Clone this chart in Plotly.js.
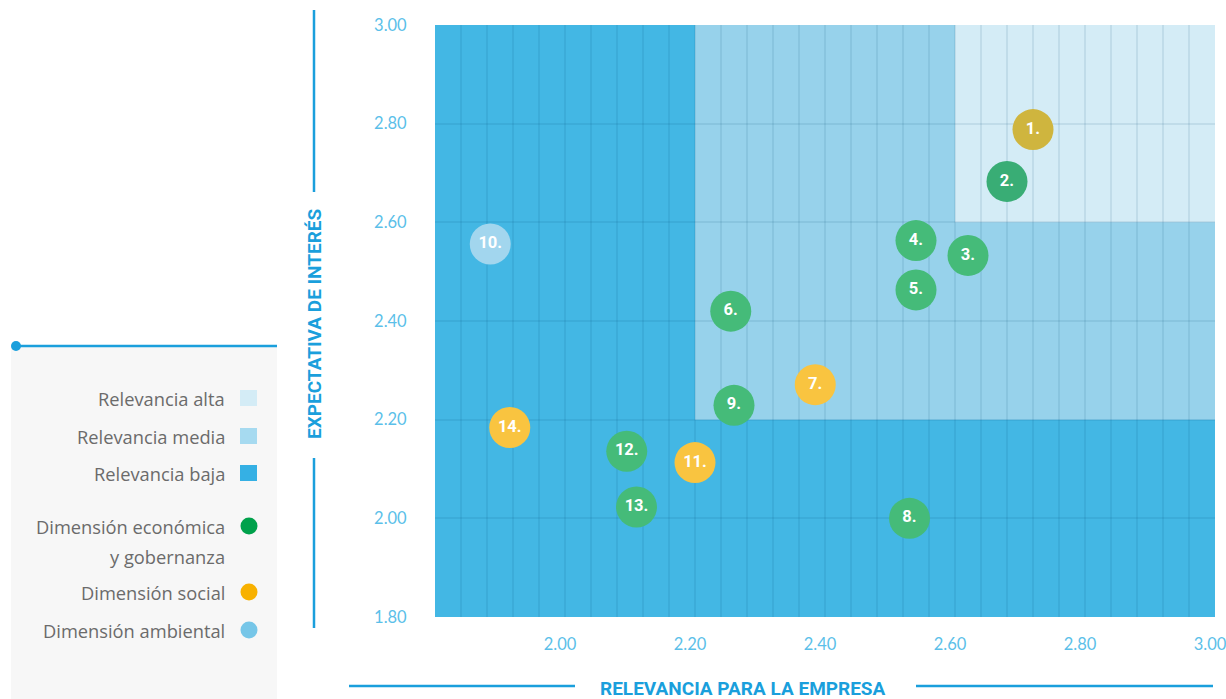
<!DOCTYPE html>
<html>
<head>
<meta charset="utf-8">
<script src="https://cdn.plot.ly/plotly-3.0.1.min.js"></script>
<style>html,body{margin:0;padding:0;background:#fff;}#chart{width:1226px;height:699px;}</style>
</head>
<body>
<div id="chart"></div>
<script>
// ---- Data ----
const pointLabels = ['1.','2.','3.','4.','5.','6.','7.','8.','9.','10.','11.','12.','13.','14.'];
const relevanciaEmpresa = [2.72, 2.68, 2.62, 2.54, 2.54, 2.255, 2.385, 2.53, 2.26, 1.885, 2.20, 2.095, 2.11, 1.915];
const expectativaInteres = [2.788, 2.683, 2.533, 2.563, 2.463, 2.42, 2.271, 2.00, 2.229, 2.556, 2.113, 2.136, 2.023, 2.184];
const dimension = ['social','economica','economica','economica','economica','economica','social','economica','economica','ambiental','social','economica','economica','social'];

const zoneNames = ['Relevancia alta', 'Relevancia media', 'Relevancia baja'];
const mediaThreshold = 2.20;
const altaThreshold = 2.60;
const dimensionNames = ['Dimensión económica', 'y gobernanza', 'Dimensión social', 'Dimensión ambiental'];

const xTicks = [2.00, 2.20, 2.40, 2.60, 2.80, 3.00];
const yTicks = [1.80, 2.00, 2.20, 2.40, 2.60, 2.80, 3.00];
const axisMin = 1.80, axisMax = 3.00;
const xGridStep = 0.04;

// ---- Styles ----
const zoneColors = {alta: '#d4ecf6', media: '#97d2eb', baja: '#43b7e4'};
const legendZoneColors = ['#d4ecf6', '#a6daf0', '#35b0e4'];
const markerColors = {economica: '#45bb79', social: '#f9c440', ambiental: '#a2d6ee'};
const legendDotColors = ['#00a14b', '#f8b100', '#76c6e8'];
const blue = '#1a9fdc';
const textGray = '#6b6b6b';

function hexToRgb(h){h=h.replace('#','');return [parseInt(h.substr(0,2),16),parseInt(h.substr(2,2),16),parseInt(h.substr(4,2),16)];}
function multiply(a,b){const A=hexToRgb(a),B=hexToRgb(b);return 'rgb('+A.map((v,i)=>Math.round(v*B[i]/255)).join(',')+')';}

const colors = relevanciaEmpresa.map((x,i)=>{
  const c = markerColors[dimension[i]];
  return (x >= altaThreshold && expectativaInteres[i] >= altaThreshold) ? multiply(c, zoneColors.alta) : c;
});

const trace = {
  type: 'scatter', mode: 'markers+text',
  x: relevanciaEmpresa, y: expectativaInteres, text: pointLabels,
  textposition: 'middle center',
  textfont: {family: 'Roboto, sans-serif', size: 16.5, color: '#ffffff', weight: 'bold'},
  marker: {size: 41, color: colors, line: {width: 0}},
  hoverinfo: 'x+y+text', showlegend: false, cliponaxis: false
};
// carrier trace so the labelled x axis is drawn
const labelAxisTrace = {type:'scatter', mode:'markers', x:[null], y:[null], xaxis:'x2', yaxis:'y', hoverinfo:'skip', showlegend:false};

// paper coordinate helpers (plot area: 435..1215 px, 25..617 px)
const L = 435, T = 25, W = 780, H = 592;
const px = v => (v - L) / W;
const py = v => (T + H - v) / H;

const shapes = [
  {type:'rect', xref:'x', yref:'y', x0:axisMin, x1:axisMax, y0:axisMin, y1:axisMax, fillcolor:zoneColors.baja, line:{width:0}, layer:'below'},
  {type:'rect', xref:'x', yref:'y', x0:mediaThreshold, x1:axisMax, y0:mediaThreshold, y1:axisMax, fillcolor:zoneColors.media, line:{width:0}, layer:'below'},
  {type:'rect', xref:'x', yref:'y', x0:altaThreshold, x1:axisMax, y0:altaThreshold, y1:axisMax, fillcolor:zoneColors.alta, line:{width:0}, layer:'below'},
  // axis title lines
  {type:'line', xref:'paper', yref:'paper', x0:px(314), x1:px(314), y0:py(10), y1:py(192), line:{color:blue, width:2.5}},
  {type:'line', xref:'paper', yref:'paper', x0:px(314), x1:px(314), y0:py(458), y1:py(628), line:{color:blue, width:2.5}},
  {type:'line', xref:'paper', yref:'paper', x0:px(349), x1:px(575), y0:py(686), y1:py(686), line:{color:blue, width:2.5}},
  {type:'line', xref:'paper', yref:'paper', x0:px(916), x1:px(1213), y0:py(686), y1:py(686), line:{color:blue, width:2.5}},
  // legend panel
  {type:'rect', xref:'paper', yref:'paper', x0:px(11), x1:px(277), y0:py(346), y1:py(699), fillcolor:'#f7f7f7', line:{width:0}, layer:'below'},
  {type:'line', xref:'paper', yref:'paper', x0:px(16), x1:px(277), y0:py(346), y1:py(346), line:{color:blue, width:2.5}},
  {type:'circle', xref:'paper', yref:'paper', x0:px(11), x1:px(21), y0:py(341), y1:py(351), fillcolor:blue, line:{width:0}}
];

const titleFont = {family:'Roboto, sans-serif', size:19, color:blue, weight:'bold'};
const annotations = [
  {xref:'paper', yref:'paper', x:px(314), y:py(324), text:'EXPECTATIVA DE INTERÉS', textangle:-90, showarrow:false,
   font:titleFont, xanchor:'center', yanchor:'middle'},
  {xref:'paper', yref:'paper', x:px(743), y:py(688), text:'RELEVANCIA PARA LA EMPRESA', showarrow:false,
   font:titleFont, xanchor:'center', yanchor:'middle'}
];

const legendFont = {family:'"Open Sans", sans-serif', size:18.3, color:textGray};
const zoneRowsY = [398, 436, 473];
zoneNames.forEach((n,i)=>{
  annotations.push({xref:'paper', yref:'paper', x:px(227), y:py(zoneRowsY[i]), text:n, showarrow:false, xanchor:'right', yanchor:'middle', font:legendFont});
  shapes.push({type:'rect', xref:'paper', yref:'paper', x0:px(240), x1:px(257), y0:py(zoneRowsY[i]-8), y1:py(zoneRowsY[i]+8), fillcolor:legendZoneColors[i], line:{width:0}});
});
const dimTextY = [526, 556, 592, 630];
dimensionNames.forEach((n,i)=>{
  annotations.push({xref:'paper', yref:'paper', x:px(227), y:py(dimTextY[i]), text:n, showarrow:false, xanchor:'right', yanchor:'middle', font:legendFont});
});
const dotY = [526, 592, 630];
legendDotColors.forEach((c,i)=>{
  shapes.push({type:'circle', xref:'paper', yref:'paper', x0:px(240.5), x1:px(257.5), y0:py(dotY[i]-8.5), y1:py(dotY[i]+8.5), fillcolor:c, line:{width:0}});
});

const gridColor = 'rgba(0,70,110,0.09)';
const tickFont = {family:'Lato, sans-serif', size:16.5, color:'#5bbfe9'};

const layout = {
  width:1226, height:699,
  margin:{l:435, r:11, t:25, b:82, pad:0},
  paper_bgcolor:'#ffffff', plot_bgcolor:'rgba(0,0,0,0)',
  xaxis:{range:[axisMin, axisMax], tick0:axisMin, dtick:xGridStep, showticklabels:false, ticks:'',
    showgrid:true, gridcolor:gridColor, gridwidth:2, zeroline:false, showline:false, fixedrange:true},
  xaxis2:{range:[axisMin, axisMax], overlaying:'x', anchor:'y', side:'bottom',
    tickvals:xTicks, ticktext:xTicks.map(v=>v.toFixed(2)), showgrid:false, zeroline:false, showline:false,
    ticklabeloverflow:'allow', ticklabelshift:-5,
    ticks:'outside', ticklen:12, tickcolor:'rgba(0,0,0,0)', tickfont:tickFont, fixedrange:true},
  yaxis:{range:[axisMin, axisMax], tickvals:yTicks, ticktext:yTicks.map(v=>v.toFixed(2)),
    showgrid:true, gridcolor:gridColor, gridwidth:2, zeroline:false, showline:false,
    ticks:'outside', ticklen:24, tickcolor:'rgba(0,0,0,0)', tickfont:tickFont, fixedrange:true},
  shapes: shapes,
  annotations: annotations,
  showlegend:false
};

Plotly.newPlot('chart', [trace, labelAxisTrace], layout, {displayModeBar:false});
</script>
</body>
</html>
